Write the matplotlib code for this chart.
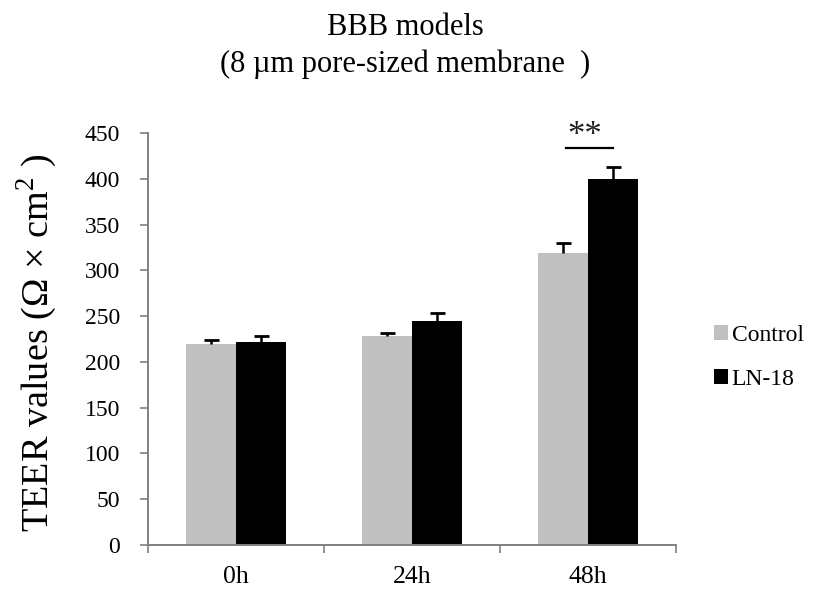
import matplotlib
matplotlib.use("Agg")
import matplotlib.pyplot as plt
import numpy as np

categories = ["0h", "24h", "48h"]
control = [220, 228, 319]
control_err = [4, 4, 11]
ln18 = [222, 245, 400]
ln18_err = [6, 8, 13]
yticks = [0, 50, 100, 150, 200, 250, 300, 350, 400, 450]
sig_value = 434

plt.rcParams['font.family'] = ['Liberation Serif', 'DejaVu Serif']
plt.rcParams['mathtext.fontset'] = 'custom'
plt.rcParams['mathtext.rm'] = 'Liberation Serif'

fig = plt.figure(figsize=(8.19, 5.89), dpi=100)
ax = fig.add_axes([0.1807, 0.0747, 0.6447, 0.6995])

x = np.arange(len(categories))
w = 0.286
b1 = ax.bar(x - w/2, control, w, color='#c0c0c0', label='Control')
b2 = ax.bar(x + w/2, ln18, w, color='black', label='LN-18')

for xs, vals, errs in [(x - w/2, control, control_err), (x + w/2, ln18, ln18_err)]:
    eb = ax.errorbar(xs, vals, yerr=[np.zeros(len(vals)), errs], fmt='none',
                     ecolor='black', elinewidth=1.8, capsize=5.4, capthick=2.0)
    caps = eb[1]
    caps[0].set_visible(False)

# significance
ax.plot([x[2] - w/2 + 0.02, x[2] + w/2], [sig_value, sig_value], color='black', lw=1.6,
        clip_on=False)
ax.text(x[2] - 0.02, sig_value + 3, '**', ha='center', va='baseline', fontsize=25,
        color='#222222', clip_on=False)

ax.set_xlim(-0.5, 2.5)
ax.set_ylim(0, 450)
ax.set_yticks(yticks)
ax.set_yticklabels([str(v) for v in yticks], fontsize=17)
ax.set_xticks(x)
ax.set_xticklabels(categories, fontsize=18.5)
ax.set_xticks([-0.5, 0.5, 1.5, 2.5], minor=True)
ax.tick_params(axis='x', which='major', length=0, pad=15)
ax.tick_params(axis='x', which='minor', length=6, color='#808080', width=1.2)
ax.tick_params(axis='y', length=6, color='#808080', width=1.2, pad=14)

for s in ['top', 'right']:
    ax.spines[s].set_visible(False)
for s in ['left', 'bottom']:
    ax.spines[s].set_color('#808080')
    ax.spines[s].set_linewidth(1.4)

fig.text(37/819, 1 - 343/589, 'TEER values (Ω × cm$^2$ )', rotation=90,
         ha='center', va='center', fontsize=27.5)

fig.text(0.495, 1 - 35/589, 'BBB models', ha='center', va='baseline', fontsize=22)
fig.text(0.495, 1 - 72/589, '(8 µm pore-sized membrane  )', ha='center', va='baseline',
         fontsize=22)

fig.legend(handles=[b1, b2], labels=['Control', 'LN-18'], loc='upper left',
           bbox_to_anchor=(714/819, 1 - 325/589), frameon=False, fontsize=17,
           handlelength=0.6, handleheight=0.6, handletextpad=0.15, labelspacing=0.97,
           borderaxespad=0, borderpad=0)

fig.savefig('out.png', dpi=100)
